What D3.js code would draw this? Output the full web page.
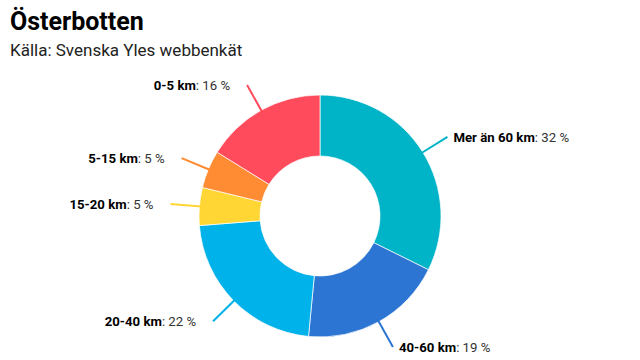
<!DOCTYPE html>
<html><head><meta charset="utf-8">
<script src="https://cdn.jsdelivr.net/npm/d3@7/dist/d3.min.js"></script>
<style>
body{margin:0;background:#fff;}
svg{display:block;font-family:Roboto,"DejaVu Sans Condensed",sans-serif;}
</style></head><body>
<svg id="c" width="640" height="360"></svg>
<script>
const categories = ["Mer än 60 km","40-60 km","20-40 km","15-20 km","5-15 km","0-5 km"];
const values = [32,19,22,5,5,16];
const colors = ["#00b4c8","#2d75d2","#00b2ea","#ffd633","#ff8c32","#ff4b5c"];
const title = "Österbotten";
const subtitle = "Källa: Svenska Yles webbenkät";

const svg = d3.select("#c");
svg.append("text").attr("x",10).attr("y",30).attr("font-size",25).attr("font-weight","bold").attr("fill","#000").text(title);
svg.append("text").attr("x",10).attr("y",56).attr("font-size",17).attr("fill","#222").text(subtitle);

const cx=320, cy=216, R=121, r=60, Rl=150;
const data = categories.map((c,i)=>({cat:c,val:values[i],color:colors[i]}));
const pie = d3.pie().value(d=>d.val).sort(null);
const arcs = pie(data);
const arc = d3.arc().innerRadius(r).outerRadius(R);
const g = svg.append("g").attr("transform",`translate(${cx},${cy})`);
g.selectAll("path.s").data(arcs).join("path").attr("class","s")
  .attr("d",arc).attr("fill",d=>d.data.color).attr("stroke","#fff").attr("stroke-width",0.7);

function pt(a,rad){return [rad*Math.sin(a), -rad*Math.cos(a)];}
arcs.forEach(d=>{
  const m=(d.startAngle+d.endAngle)/2;
  const p1=pt(m,R-2), p2=pt(m,Rl);
  g.append("line").attr("x1",p1[0]).attr("y1",p1[1]).attr("x2",p2[0]).attr("y2",p2[1])
    .attr("stroke",d.data.color).attr("stroke-width",2);
  const right = Math.sin(m)>0;
  const t=g.append("text").attr("x",p2[0]+(right?6:-17)).attr("y",p2[1]).attr("dy","0.38em")
    .attr("text-anchor",right?"start":"end").attr("font-size",13.2).attr("fill","#000");
  t.append("tspan").attr("font-weight","bold").text(d.data.cat);
  t.append("tspan").attr("fill","#333").text(": "+d.data.val+" %");
});
</script></body></html>
